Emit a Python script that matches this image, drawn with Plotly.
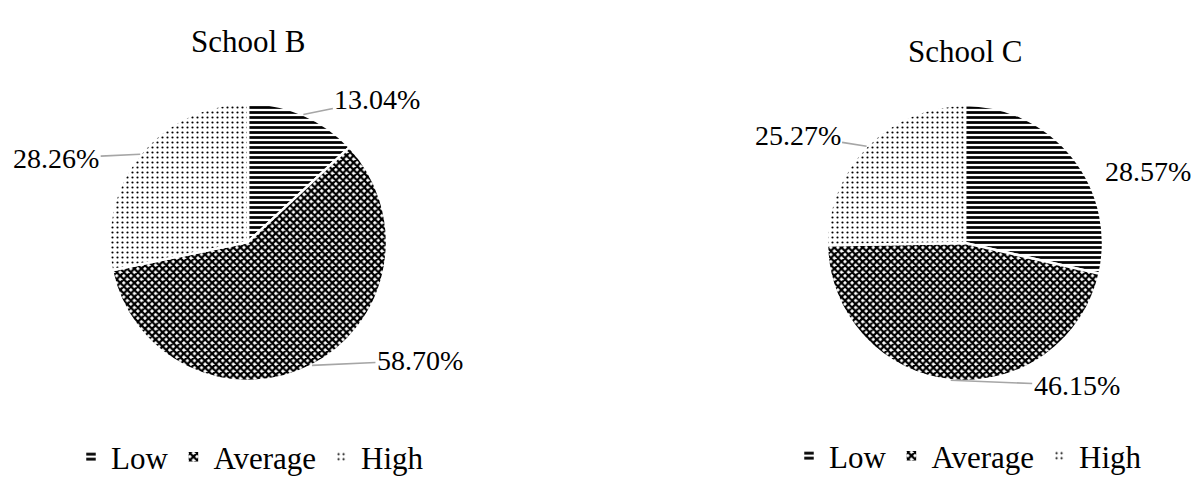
import math
import plotly.graph_objects as go

# ---- data ----
categories = ["Low", "Average", "High"]
school_b_values = [13.04, 58.70, 28.26]
school_c_values = [28.57, 46.15, 25.27]
chart_titles = ["School B", "School C"]

# ---- layout (pixels) ----
W, H = 1198, 479
FONT = "Liberation Serif"
pies = [
    dict(values=school_b_values, cx=248, cy=242, r=139, legend="legend",
         suffix="", title_y=42,
         offsets=[(74, -15), (108, -5), (-84, 4)],
         show_line=[True, True, True]),
    dict(values=school_c_values, cx=965, cy=243, r=138, legend="legend2",
         suffix="\u200b", title_y=51,
         offsets=[(75, 15), (126, 5), (-69, -11)],
         show_line=[False, True, True]),
]

patterns = dict(
    shape=["-", "x", "."],
    size=[5, 5, 5],
    solidity=[0.55, 0.7, 0.15],
    fgcolor="black",
    bgcolor="white",
    fillmode="replace",
)


def px2paper(x, y):
    return x / W, 1 - y / H


fig = go.Figure()
annotations = []
for i, p in enumerate(pies):
    x0, y1 = px2paper(p["cx"] - p["r"], p["cy"] - p["r"])
    x1, y0 = px2paper(p["cx"] + p["r"], p["cy"] + p["r"])
    fig.add_trace(go.Pie(
        labels=[c + p["suffix"] for c in categories],
        values=p["values"],
        sort=False,
        direction="clockwise",
        rotation=0,
        textinfo="none",
        hoverinfo="label+percent",
        marker=dict(colors=["white"] * 3, pattern=patterns,
                    line=dict(color="white", width=2.5)),
        domain=dict(x=[x0, x1], y=[y0, y1]),
        legend=p["legend"],
        showlegend=True,
    ))
    # title
    tx, ty = px2paper(p["cx"], p["title_y"])
    annotations.append(dict(
        text=chart_titles[i], x=tx, y=ty, xref="paper", yref="paper",
        xanchor="center", yanchor="middle",
        showarrow=False, font=dict(family=FONT, size=31, color="black"),
    ))
    # data labels with leader lines
    total = sum(p["values"])
    cum = 0.0
    for j, v in enumerate(p["values"]):
        mid = (cum + v / 2) / total * 2 * math.pi
        cum += v
        ex = p["cx"] + p["r"] * math.sin(mid)
        ey = p["cy"] - p["r"] * math.cos(mid)
        ax_, ay_ = p["offsets"][j]
        px_, py_ = px2paper(ex, ey)
        annotations.append(dict(
            text=f"{v:.2f}%", x=px_, y=py_, xref="paper", yref="paper",
            ax=ax_, ay=ay_, showarrow=True, arrowhead=0,
            arrowwidth=1.6, standoff=0,
            arrowcolor="#a6a6a6" if p["show_line"][j] else "rgba(0,0,0,0)",
            font=dict(family=FONT, size=28, color="black"),
        ))

lb_x, lb_y = px2paper(250, 457)
lc_x, lc_y = px2paper(968, 456)
legend_common = dict(orientation="h", xanchor="center", yanchor="middle",
                     font=dict(family=FONT, size=31, color="black"),
                     bgcolor="rgba(0,0,0,0)", itemclick=False,
                     itemdoubleclick=False)

fig.update_layout(
    width=W, height=H,
    autosize=False,
    margin=dict(l=0, r=0, t=0, b=0, autoexpand=False),
    paper_bgcolor="white",
    plot_bgcolor="white",
    font=dict(family=FONT, color="black"),
    annotations=annotations,
    legend=dict(x=lb_x, y=lb_y, **legend_common),
    legend2=dict(x=lc_x, y=lc_y, **legend_common),
)

post = ("document.body.style.margin='0';"
        "document.body.style.overflow='hidden';"
        "document.documentElement.style.overflow='hidden';"
        "Plotly.Plots.resize(document.getElementById('{plot_id}'));")

fig.write_html("out.html", post_script=post,
               config={"responsive": False, "displayModeBar": False})
